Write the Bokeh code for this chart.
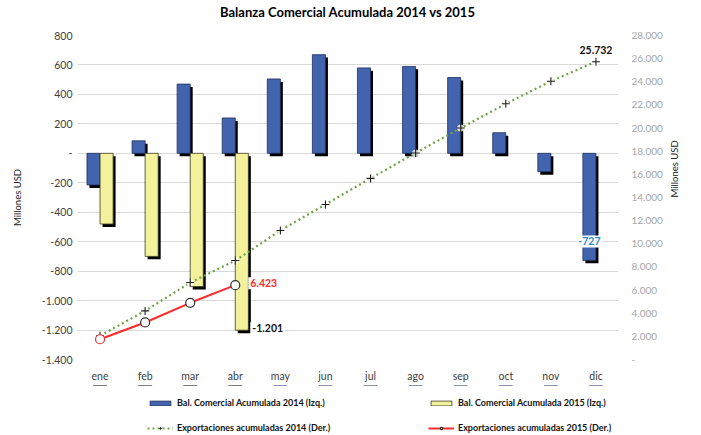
import math
from bokeh.plotting import figure
from bokeh.models import (Range1d, LinearAxis, ColumnDataSource, Legend, LegendItem,
                          CustomJSTickFormatter, FixedTicker, Div)
from bokeh.layouts import column
from bokeh.transform import dodge
from bokeh.core.properties import value
from bokeh.embed import file_html
from bokeh.resources import INLINE

title_text = "Balanza Comercial Acumulada 2014 vs 2015"
months = ["ene", "feb", "mar", "abr", "may", "jun", "jul", "ago", "sep", "oct", "nov", "dic"]
bal14 = [-215, 85, 470, 240, 505, 670, 580, 590, 515, 140, -125, -727]
bal15 = [-480, -700, -905, -1201]
exp14 = [2050, 4200, 6650, 8550, 11150, 13400, 15650, 17850, 20000, 22100, 24050, 25732]
exp15 = [1750, 3200, 4900, 6423]
left_ticks = list(range(-1400, 801, 200))
right_ticks = list(range(0, 28001, 2000))
series_names = ["Bal. Comercial Acumulada 2014 (Izq.)", "Bal. Comercial Acumulada 2015 (Izq.)",
                "Exportaciones acumuladas 2014 (Der.)", "Exportaciones acumuladas 2015 (Der.)"]

FONT = "Lato"
BLUE = "#4264AE"
YELLOW = "#F4F19C"
GREEN = "#70A445"
RED = "#FF2A2A"


def fmt(v):
    s = f"{abs(v):,}".replace(",", ".")
    return ("-" if v < 0 else "") + s


title = Div(text=title_text, width=695, height=24, margin=0,
            styles={"text-align": "center", "font-family": FONT, "font-weight": "bold",
                    "font-size": "13px", "line-height": "24px", "color": "#000000"})

p = figure(x_range=months, y_range=Range1d(left_ticks[0], left_ticks[-1]),
           width=701, height=361, output_backend="svg", toolbar_location=None,
           min_border_left=77, min_border_right=83, min_border_top=11, min_border_bottom=26)
p.extra_y_ranges = {"r": Range1d(right_ticks[0], right_ticks[-1])}
p.outline_line_color = None
p.background_fill_color = "white"

tick_js = """
if (tick == 0) { return '-'; }
var a = Math.abs(Math.round(tick)).toString().replace(/\\B(?=(\\d{3})+(?!\\d))/g, '.');
return (tick < 0 ? '-' : '') + a;
"""


def style_axis(a):
    a.axis_line_color = None
    a.major_tick_line_color = None
    a.minor_tick_line_color = None
    a.major_tick_out = 0
    a.major_tick_in = 0
    a.minor_tick_out = 0
    a.minor_tick_in = 0
    a.major_label_text_font = FONT
    a.axis_label_text_font = FONT
    a.axis_label_text_font_style = "normal"
    a.axis_label_text_color = "#202020"


ax = p.yaxis[0]
style_axis(ax)
ax.ticker = FixedTicker(ticks=left_ticks)
ax.formatter = CustomJSTickFormatter(code=tick_js)
ax.major_label_standoff = 5
ax.major_label_text_font_size = "10.5px"
ax.major_label_text_color = "#404040"
ax.axis_label = "Millones USD"
ax.axis_label_text_font_size = "9.5px"
ax.axis_label_standoff = 16

rax = LinearAxis(y_range_name="r", ticker=FixedTicker(ticks=right_ticks),
                 formatter=CustomJSTickFormatter(code=tick_js))
style_axis(rax)
rax.major_label_standoff = 13
rax.major_label_text_font_size = "10px"
rax.major_label_text_color = "#A6A6A6"
rax.axis_label = "Millones USD"
rax.axis_label_text_font_size = "9.5px"
rax.axis_label_standoff = 9
rax.axis_label_orientation = math.pi / 2
p.add_layout(rax, "right")

xa = p.xaxis[0]
style_axis(xa)
xa.major_label_standoff = 10
xa.major_label_text_font_size = "10.5px"
xa.major_label_text_color = "#404040"

p.xgrid.grid_line_color = None
p.ygrid.grid_line_color = "#D9D9D9"
p.ygrid.grid_line_width = 1

src14 = ColumnDataSource(dict(m=months, v=bal14, z=[0] * len(bal14)))
src15 = ColumnDataSource(dict(m=months[:len(bal15)], v=bal15, z=[0] * len(bal15)))
e14 = ColumnDataSource(dict(m=months, v=exp14))
e15 = ColumnDataSource(dict(m=months[:len(exp15)], v=exp15,
                            lc=["#E03030" if i == 0 else "#303030" for i in range(len(exp15))]))

BW = 0.29
OFF = 0.145
SHX = 0.055
SHY = -20

for src, off in ((src14, -OFF), (src15, OFF)):
    p.vbar(x=dodge("m", off + SHX, range=p.x_range), top=dodge("v", SHY), bottom=dodge("z", SHY),
           width=BW, source=src, fill_color="#000000", line_color=None)

bar14_style = dict(fill_color=BLUE, line_color="#1E2E5C", line_width=0.8)
bar15_style = dict(fill_color=YELLOW, line_color="#3A3A20", line_width=0.8)
l14_style = dict(line_color=GREEN, line_width=2.2, line_dash="2 3")
c14_style = dict(marker="cross", size=8, line_color="#202020", line_width=1.1)
l15_style = dict(line_color=RED, line_width=2)
c15_style = dict(marker="circle", size=9, fill_color="white", line_width=1.2)

p.vbar(x=dodge("m", -OFF, range=p.x_range), top="v", bottom="z", width=BW, source=src14, **bar14_style)
p.vbar(x=dodge("m", OFF, range=p.x_range), top="v", bottom="z", width=BW, source=src15, **bar15_style)
p.line(x="m", y="v", source=e14, y_range_name="r", **l14_style)
p.scatter(x="m", y="v", source=e14, y_range_name="r", marker="circle", size=7,
          fill_color="white", fill_alpha=0.8, line_color=None)
p.scatter(x="m", y="v", source=e14, y_range_name="r", **c14_style)
p.line(x="m", y="v", source=e15, y_range_name="r", **l15_style)
p.scatter(x="m", y="v", source=e15, y_range_name="r", line_color="lc", **c15_style)

# data labels
p.text(x=[months[-1]], y=[exp14[-1]], text=[fmt(exp14[-1])], y_range_name="r",
       text_align="center", text_baseline="bottom", y_offset=-8,
       text_font=value(FONT), text_font_size="10.5px", text_font_style="bold", text_color="#111111")
p.text(x=[months[len(exp15) - 1]], y=[exp15[-1]], text=[fmt(exp15[-1])], y_range_name="r",
       text_align="left", text_baseline="middle", x_offset=13, y_offset=-2,
       text_font=value(FONT), text_font_size="10.5px", text_font_style="bold", text_color=RED,
       background_fill_color="white", padding=2)
p.text(x=[months[len(bal15) - 1]], y=[bal15[-1]], text=[fmt(bal15[-1])],
       text_align="left", text_baseline="middle", x_offset=15, y_offset=-2,
       text_font=value(FONT), text_font_size="10.5px", text_font_style="bold", text_color="#111111",
       background_fill_color="white", padding=2)
p.text(x=dodge("x", -OFF, range=p.x_range), y="y", text="t",
       source=ColumnDataSource(dict(x=[months[-1]], y=[bal14[-1]], t=[fmt(bal14[-1])])),
       text_align="center", text_baseline="middle", y_offset=-19,
       text_font=value(FONT), text_font_size="10.5px", text_font_style="bold", text_color="#2A8AD4",
       background_fill_color="white", padding=2)

# legend strip: a small figure below, drawing the same series far outside its view
lf = figure(width=701, height=50, output_backend="svg", toolbar_location=None,
            x_range=p.x_range, y_range=Range1d(-2e6, -1e6),
            min_border_left=0, min_border_right=0, min_border_top=0, min_border_bottom=0)
lf.axis.visible = False
lf.grid.visible = False
lf.outline_line_color = None
lb14 = lf.vbar(x="m", top="v", bottom="z", width=BW, source=src14, **bar14_style)
lb15 = lf.vbar(x="m", top="v", bottom="z", width=BW, source=src15, **bar15_style)
ll14 = lf.line(x="m", y="v", source=e14, **l14_style)
lc14 = lf.scatter(x="m", y="v", source=e14, **c14_style)
ll15 = lf.line(x="m", y="v", source=e15, **l15_style)
lc15 = lf.scatter(x="m", y="v", source=e15, line_color="#303030", **c15_style)


def mk_legend(items, x):
    return Legend(items=items, location=(x, 2), orientation="vertical",
                  glyph_width=26, glyph_height=6, label_height=10, spacing=14,
                  padding=0, margin=0, border_line_color=None, background_fill_alpha=0,
                  label_text_font=FONT, label_text_font_size="9px", label_text_font_style="bold",
                  label_text_color="#111111", label_standoff=4)


lf.add_layout(mk_legend([LegendItem(label=series_names[0], renderers=[lb14]),
                         LegendItem(label=series_names[2], renderers=[ll14, lc14])], 70), "center")
lf.add_layout(mk_legend([LegendItem(label=series_names[1], renderers=[lb15]),
                         LegendItem(label=series_names[3], renderers=[ll15, lc15])], 351), "center")

open("out.html", "w").write(file_html(column(title, p, lf, spacing=0), INLINE))
